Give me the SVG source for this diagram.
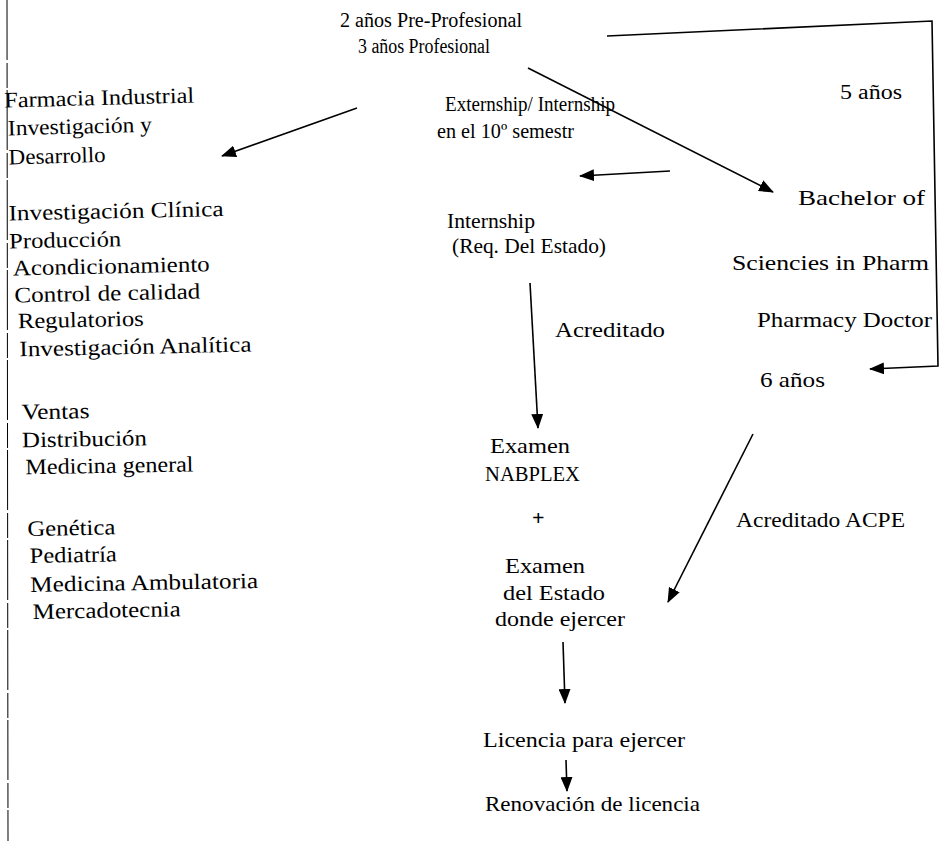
<svg xmlns="http://www.w3.org/2000/svg" width="945" height="841" viewBox="0 0 945 841">
<defs>
<style>
text{font-family:"Liberation Serif","Times New Roman",serif;font-size:20.5px;fill:#000}
.b{font-size:22px}
.ln{stroke:#000;stroke-width:1.6;fill:none}
</style>
<marker id="ah" markerUnits="userSpaceOnUse" markerWidth="15" markerHeight="12" refX="14" refY="6" orient="auto">
<path d="M0,0 L15,6 L0,12 z" fill="#000"/>
</marker>
</defs>
<rect width="945" height="841" fill="#fff"/>
<line x1="7" y1="0" x2="8" y2="841" stroke="#000" stroke-width="1" stroke-dasharray="60,3,25,2"/>
<g id="connectors">
<path class="ln" d="M607,36 L932,21 L938,366 L870,369" marker-end="url(#ah)"/>
<line class="ln" x1="528" y1="68" x2="773" y2="192" marker-end="url(#ah)"/>
<line class="ln" x1="357" y1="108" x2="222" y2="156" marker-end="url(#ah)"/>
<line class="ln" x1="670" y1="171" x2="580" y2="176" stroke-width="2" marker-end="url(#ah)"/>
<line class="ln" x1="530" y1="283" x2="538" y2="428" marker-end="url(#ah)"/>
<line class="ln" x1="753" y1="434" x2="668" y2="602" marker-end="url(#ah)"/>
<line class="ln" x1="563" y1="642" x2="565" y2="703" marker-end="url(#ah)"/>
<line class="ln" x1="566" y1="760" x2="567" y2="791" marker-end="url(#ah)"/>
</g>
<g id="top">
<text x="340" y="27" textLength="182" lengthAdjust="spacingAndGlyphs">2 años Pre-Profesional</text>
<text x="358" y="53" textLength="132" lengthAdjust="spacingAndGlyphs">3 años Profesional</text>
</g>
<g id="cinco"><text x="840" y="99" textLength="62" lengthAdjust="spacingAndGlyphs">5 años</text></g>
<g id="farmacia" transform="rotate(-1.5 100 130)">
<text class="b" x="5" y="105" textLength="190" lengthAdjust="spacingAndGlyphs">Farmacia Industrial</text>
<text class="b" x="8" y="133" textLength="144" lengthAdjust="spacingAndGlyphs">Investigación y</text>
<text class="b" x="8" y="162" textLength="97" lengthAdjust="spacingAndGlyphs">Desarrollo</text>
</g>
<g id="extern">
<text x="445" y="111" textLength="170" lengthAdjust="spacingAndGlyphs">Externship/ Internship</text>
<text x="437" y="138" textLength="137" lengthAdjust="spacingAndGlyphs">en el 10º semestr</text>
</g>
<g id="areas1" transform="rotate(-1.2 130 280)">
<text class="b" x="10" y="218" textLength="215" lengthAdjust="spacingAndGlyphs">Investigación Clínica</text>
<text class="b" x="10" y="246" textLength="112" lengthAdjust="spacingAndGlyphs">Producción</text>
<text class="b" x="13" y="273" textLength="197" lengthAdjust="spacingAndGlyphs">Acondicionamiento</text>
<text class="b" x="14" y="300" textLength="186" lengthAdjust="spacingAndGlyphs">Control de calidad</text>
<text class="b" x="17" y="326" textLength="126" lengthAdjust="spacingAndGlyphs">Regulatorios</text>
<text class="b" x="18" y="354" textLength="232" lengthAdjust="spacingAndGlyphs">Investigación Analítica</text>
</g>
<g id="areas2" transform="rotate(-1 100 440)">
<text class="b" x="22" y="418" textLength="68" lengthAdjust="spacingAndGlyphs">Ventas</text>
<text class="b" x="22" y="446" textLength="125" lengthAdjust="spacingAndGlyphs">Distribución</text>
<text class="b" x="25" y="473" textLength="168" lengthAdjust="spacingAndGlyphs">Medicina general</text>
</g>
<g id="areas3" transform="rotate(-1 140 570)">
<text class="b" x="28" y="534" textLength="88" lengthAdjust="spacingAndGlyphs">Genética</text>
<text class="b" x="30" y="561" textLength="87" lengthAdjust="spacingAndGlyphs">Pediatría</text>
<text class="b" x="30" y="590" textLength="228" lengthAdjust="spacingAndGlyphs">Medicina Ambulatoria</text>
<text class="b" x="32" y="617" textLength="148" lengthAdjust="spacingAndGlyphs">Mercadotecnia</text>
</g>
<g id="internship">
<text class="b" x="447" y="228" textLength="88" lengthAdjust="spacingAndGlyphs">Internship</text>
<text class="b" x="452" y="253" textLength="154" lengthAdjust="spacingAndGlyphs">(Req. Del Estado)</text>
</g>
<g id="bachelor">
<text class="b" x="798" y="205" textLength="127" lengthAdjust="spacingAndGlyphs">Bachelor of</text>
<text class="b" x="732" y="270" textLength="197" lengthAdjust="spacingAndGlyphs">Sciencies in  Pharm</text>
<text class="b" x="757" y="327" textLength="175" lengthAdjust="spacingAndGlyphs">Pharmacy Doctor</text>
<text class="b" x="760" y="387" textLength="65" lengthAdjust="spacingAndGlyphs">6 años</text>
</g>
<g id="acreditado"><text class="b" x="555" y="337" textLength="110" lengthAdjust="spacingAndGlyphs">Acreditado</text></g>
<g id="nabplex">
<text class="b" x="490" y="453" textLength="80" lengthAdjust="spacingAndGlyphs">Examen</text>
<text class="b" x="485" y="481" textLength="95" lengthAdjust="spacingAndGlyphs">NABPLEX</text>
</g>
<g id="acpe"><text class="b" x="736" y="527" textLength="169" lengthAdjust="spacingAndGlyphs">Acreditado ACPE</text></g>
<g id="estado">
<text class="b" x="532" y="525" font-weight="bold">+</text>
<text class="b" x="505" y="573" textLength="80" lengthAdjust="spacingAndGlyphs">Examen</text>
<text class="b" x="503" y="600" textLength="102" lengthAdjust="spacingAndGlyphs">del Estado</text>
<text class="b" x="495" y="626" textLength="130" lengthAdjust="spacingAndGlyphs">donde ejercer</text>
</g>
<g id="licencia"><text class="b" x="483" y="747" textLength="202" lengthAdjust="spacingAndGlyphs">Licencia para ejercer</text></g>
<g id="renovacion"><text class="b" x="485" y="811" textLength="215" lengthAdjust="spacingAndGlyphs">Renovación de licencia</text></g>
</svg>
